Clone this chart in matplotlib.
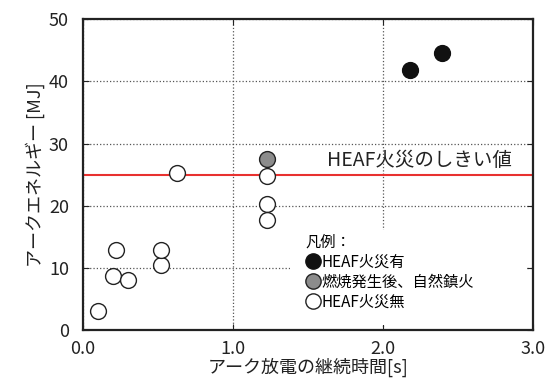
import matplotlib
matplotlib.use('Agg')
import matplotlib.pyplot as plt
from matplotlib.lines import Line2D
from matplotlib.patches import Rectangle
from matplotlib.ticker import FormatStrFormatter

plt.rcParams['font.family'] = ['Noto Sans CJK JP', 'DejaVu Sans']

# アーク継続時間 [s] とアークエネルギー [MJ]
fire_t = [2.18, 2.39]
fire_e = [41.8, 44.6]

selfext_t = [1.23]
selfext_e = [27.5]

nofire_t = [0.10, 0.20, 0.22, 0.30, 0.52, 0.52, 0.63, 1.23, 1.23, 1.23]
nofire_e = [3.0, 8.7, 12.8, 8.1, 10.4, 12.9, 25.2, 24.7, 20.3, 17.7]

threshold = 25.0

x_ticks = [0.0, 1.0, 2.0, 3.0]
y_ticks = [0, 10, 20, 30, 40, 50]

fig = plt.figure(figsize=(5.52, 3.88), dpi=100)
ax = fig.add_axes([0.150, 0.150, 0.816, 0.800])

ax.set_xlim(0, 3.0)
ax.set_ylim(0, 50)
ax.set_xticks(x_ticks)
ax.set_yticks(y_ticks)
ax.xaxis.set_major_formatter(FormatStrFormatter('%.1f'))
ax.tick_params(direction='in', length=4, width=0.8, top=True, right=True,
               labelsize=13, colors='#222222')
ax.tick_params(axis='x', pad=7)
ax.tick_params(axis='y', pad=10)
ax.grid(True, linestyle=':', color='#555555', linewidth=0.9)
ax.set_axisbelow(True)
for sp in ax.spines.values():
    sp.set_linewidth(1.6)
    sp.set_color('#222222')

ax.axhline(threshold, color='#e8312f', linewidth=1.5, zorder=2)
ax.text(1.625, 27.3, 'HEAF火災のしきい値', fontsize=14, color='#222222',
        va='center', ha='left', zorder=3)

ms = 130
ax.scatter(nofire_t, nofire_e, s=ms, facecolor='white', edgecolor='#222222',
           linewidth=1.0, zorder=4)
ax.scatter(selfext_t, selfext_e, s=ms, facecolor='#8c8c8c', edgecolor='#222222',
           linewidth=1.0, zorder=4)
ax.scatter(fire_t, fire_e, s=ms, facecolor='#111111', edgecolor='#111111',
           linewidth=1.0, zorder=4)

# 凡例の背景（グリッドを隠す白地、目盛は残す）
ax.add_patch(Rectangle((0.46, 0.016), 0.524, 0.307, transform=ax.transAxes,
                       facecolor='white', edgecolor='none', zorder=5))

handles = [
    Line2D([0], [0], marker='o', linestyle='none', markersize=11,
           markerfacecolor='#111111', markeredgecolor='#111111', label='HEAF火災有'),
    Line2D([0], [0], marker='o', linestyle='none', markersize=11,
           markerfacecolor='#8c8c8c', markeredgecolor='#222222', label='燃焼発生後、自然鎮火'),
    Line2D([0], [0], marker='o', linestyle='none', markersize=11,
           markerfacecolor='white', markeredgecolor='#222222', label='HEAF火災無'),
]
leg = ax.legend(handles=handles, title='凡例：', loc='upper left',
                bbox_to_anchor=(0.495, 0.31), fontsize=11, title_fontsize=11,
                frameon=False, handlelength=0.9, handletextpad=0.15,
                labelspacing=0.2, borderpad=0, borderaxespad=0,
                alignment='left')
leg.set_zorder(6)

ax.set_xlabel('アーク放電の継続時間[s]', fontsize=13, color='#222222', labelpad=0)
ax.set_ylabel('アークエネルギー [MJ]', fontsize=13, color='#222222', labelpad=3)

fig.savefig('out.png', dpi=100)
